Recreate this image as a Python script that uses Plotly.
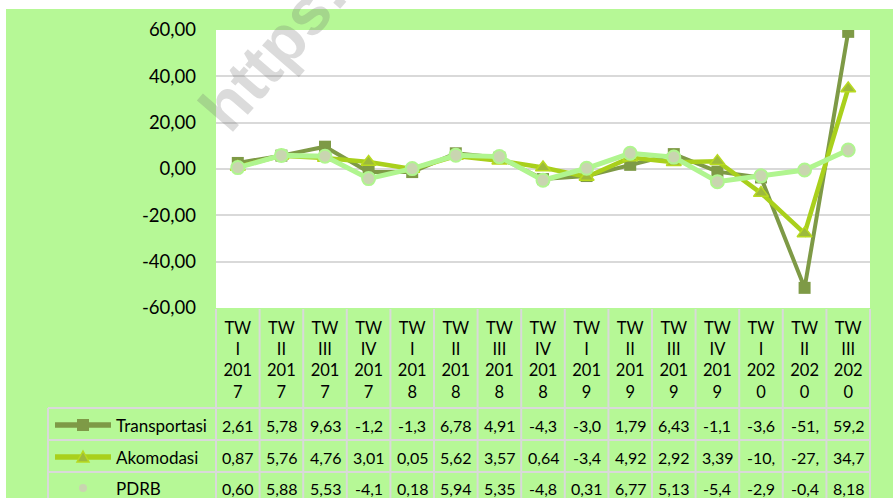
import plotly.graph_objects as go

# ---------------- data ----------------
quarters = ["I", "II", "III", "IV", "I", "II", "III", "IV", "I", "II", "III", "IV", "I", "II", "III"]
years = ["2017"] * 4 + ["2018"] * 4 + ["2019"] * 4 + ["2020"] * 3
series_names = ["Transportasi", "Akomodasi", "PDRB"]
transportasi = [2.61, 5.78, 9.63, -1.25, -1.33, 6.78, 4.91, -4.35, -3.04, 1.79, 6.43, -1.15, -3.65, -51.3, 59.2]
akomodasi = [0.87, 5.76, 4.76, 3.01, 0.05, 5.62, 3.57, 0.64, -3.45, 4.92, 2.92, 3.39, -10.4, -27.8, 34.75]
pdrb = [0.60, 5.88, 5.53, -4.15, 0.18, 5.94, 5.35, -4.85, 0.31, 6.77, 5.13, -5.45, -2.95, -0.45, 8.18]
y_ticks = [-60, -40, -20, 0, 20, 40, 60]
watermark = "https:/"

categories = [f"TW {q} {y}" for q, y in zip(quarters, years)]
tick_text = [f"TW<br>{q}<br>{y[:3]}<br>{y[3:]}" for q, y in zip(quarters, years)]
y_tick_text = [f"{v:.2f}".replace(".", ",") for v in y_ticks]

# ---------------- layout helpers ----------------
W, H = 893, 498
L, R, T, B = 216, 23, 30, 190
PW = W - L - R
PH = H - T - B


def px(x):
    return (x - L) / PW


def py(y):
    return (H - B - y) / PH


def cell_text(v):
    return f"{v:.2f}".replace(".", ",")[:4]


BG = "#b6f896"
GRID = "#d9d9d9"
FONT = "Lato"

styles = [
    dict(line=dict(color="#7e9a46", width=4),
         marker=dict(symbol="square", size=12, color="#7e9a46")),
    dict(line=dict(color="#a9d01c", width=4.5),
         marker=dict(symbol="triangle-up", size=13, color="#9dba3c",
                     line=dict(color="#b8da20", width=1.5))),
    dict(line=dict(color="#b0f58f", width=5),
         marker=dict(symbol="circle", size=13, color="#c9d5b0",
                     line=dict(color="#b0f58f", width=2))),
]

fig = go.Figure()
for name, vals, st in zip(series_names, [transportasi, akomodasi, pdrb], styles):
    fig.add_trace(go.Scatter(x=categories, y=vals, name=name, mode="lines+markers",
                             line=st["line"], marker=st["marker"], showlegend=False,
                             hovertemplate="%{x}: %{y:.2f}<extra>" + name + "</extra>"))

shapes = []
# white margins at top and left
shapes.append(dict(type="rect", xref="paper", yref="paper", x0=px(-5), x1=px(W + 5),
                   y0=py(9), y1=py(-5), fillcolor="white", line=dict(width=0), layer="below"))
shapes.append(dict(type="rect", xref="paper", yref="paper", x0=px(-5), x1=px(6),
                   y0=py(H + 5), y1=py(-5), fillcolor="white", line=dict(width=0), layer="below"))

# table grid
n = len(categories)
row_lines = [408, 440, 472]
row_centers = [425, 457, 488]
for i in range(n + 1):
    shapes.append(dict(type="line", xref="paper", yref="paper", x0=i / n, x1=i / n,
                       y0=py(309), y1=py(H + 5), line=dict(color=GRID, width=2)))
shapes.append(dict(type="line", xref="paper", yref="paper", x0=px(48), x1=px(48),
                   y0=py(row_lines[0]), y1=py(H + 5), line=dict(color=GRID, width=2)))
for yl in row_lines:
    shapes.append(dict(type="line", xref="paper", yref="paper", x0=px(48), x1=1,
                       y0=py(yl), y1=py(yl), line=dict(color=GRID, width=2)))

# legend keys
kx0, kx1, kxm = 55, 111, 83
for idx, yc in enumerate(row_centers):
    st = styles[idx]
    if idx < 2:
        shapes.append(dict(type="line", xref="paper", yref="paper", x0=px(kx0), x1=px(kx1),
                           y0=py(yc), y1=py(yc), line=dict(color=st["line"]["color"], width=5.5)))
    if idx == 0:
        shapes.append(dict(type="rect", xref="paper", yref="paper", x0=px(kxm - 6), x1=px(kxm + 6),
                           y0=py(yc + 6), y1=py(yc - 6), fillcolor=st["marker"]["color"],
                           line=dict(width=0)))
    elif idx == 1:
        path = (f"M {px(kxm - 6)} {py(yc + 5)} L {px(kxm + 6)} {py(yc + 5)} "
                f"L {px(kxm)} {py(yc - 6)} Z")
        shapes.append(dict(type="path", xref="paper", yref="paper", path=path,
                           fillcolor=st["marker"]["color"],
                           line=dict(color=st["marker"]["line"]["color"], width=1.5)))
    else:
        shapes.append(dict(type="circle", xref="paper", yref="paper", x0=px(kxm - 4), x1=px(kxm + 4),
                           y0=py(yc + 4), y1=py(yc - 4), fillcolor=st["marker"]["color"],
                           line=dict(width=0)))

annotations = []
for idx, (name, vals) in enumerate(zip(series_names, [transportasi, akomodasi, pdrb])):
    annotations.append(dict(text=name, xref="paper", yref="paper", x=px(114), y=py(row_centers[idx]),
                            xanchor="left", yanchor="middle", showarrow=False,
                            font=dict(family=FONT, size=17, color="black")))
    for c, v in zip(categories, vals):
        annotations.append(dict(text=cell_text(v), xref="x", yref="paper", x=c, y=py(row_centers[idx]),
                                xanchor="center", yanchor="middle", showarrow=False,
                                font=dict(family=FONT, size=16, color="black")))

annotations.append(dict(text=f"<b>{watermark}</b>", xref="paper", yref="paper", x=px(279), y=py(44),
                        xanchor="center", yanchor="middle", showarrow=False, textangle=-49,
                        font=dict(family="Liberation Sans", size=66, color="rgba(110,110,110,0.25)")))

fig.update_layout(
    width=W, height=H,
    margin=dict(l=L, r=R, t=T, b=B, autoexpand=False),
    paper_bgcolor=BG, plot_bgcolor="white",
    shapes=shapes, annotations=annotations,
    xaxis=dict(type="category", range=[-0.5, n - 0.5], tickvals=categories, ticktext=tick_text,
               showgrid=False, zeroline=False, showline=False, ticks="", automargin=False,
               ticklabelstandoff=8,
               tickfont=dict(family=FONT, size=16.5, color="black"), fixedrange=True),
    yaxis=dict(range=[-60, 60], tickvals=y_ticks, ticktext=y_tick_text, showgrid=True,
               gridcolor=GRID, gridwidth=1.5, zeroline=True, zerolinecolor=GRID, zerolinewidth=1.5,
               showline=False, ticks="", ticklabelstandoff=19, automargin=False,
               tickfont=dict(family=FONT, size=18.5, color="black"), fixedrange=True),
)

fig.write_html("out.html", config={"displayModeBar": False},
               post_script="document.body.style.margin='0';document.body.style.overflow='hidden';")
